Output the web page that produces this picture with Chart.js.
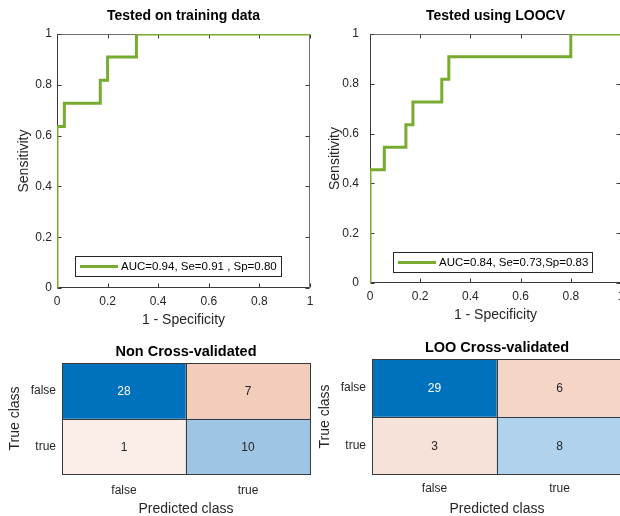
<!DOCTYPE html>
<html>
<head>
<meta charset="utf-8">
<script src="https://cdn.jsdelivr.net/npm/chart.js@4"></script>
<style>
  html, body { margin: 0; padding: 0; background: #fff; overflow: hidden; }
  #wrap { position: relative; width: 620px; height: 516px; overflow: hidden; }
  canvas { position: absolute; }
</style>
</head>
<body>
<div id="wrap">
  <canvas id="rocTrain" width="320" height="330" style="left:0;top:0;width:320px;height:330px"></canvas>
  <canvas id="rocLoo" width="321" height="325" style="left:310px;top:0;width:321px;height:325px"></canvas>
  <canvas id="cmTrainCv" width="320" height="188" style="left:0;top:330px;width:320px;height:188px"></canvas>
  <canvas id="cmLooCv" width="320" height="188" style="left:310px;top:330px;width:320px;height:188px"></canvas>
</div>
<script>
// ROC curves (1 - specificity, sensitivity)
const trainFpr = [0, 0, 0.029, 0.171, 0.2, 0.314, 1];
const trainTpr = [0, 0.636, 0.727, 0.818, 0.909, 1, 1];
const looFpr = [0, 0, 0.057, 0.143, 0.171, 0.286, 0.314, 0.8, 1];
const looTpr = [0, 0.455, 0.545, 0.636, 0.727, 0.818, 0.909, 1, 1];
const trainLabel = 'AUC=0.94, Se=0.91 , Sp=0.80';
const looLabel = 'AUC=0.84, Se=0.73,Sp=0.83';

// confusion matrices: rows = true class, columns = predicted class
const predClasses = ['false', 'true'];
const trueClasses = ['false', 'true'];
const cmTrain = [[28, 7], [1, 10]];
const cmLoo = [[29, 6], [3, 8]];

// cell colours
const cmTrainColors = [['#0072BD', '#F2CDBB'], ['#FBEEE9', '#9EC6E4']];
const cmLooColors = [['#0072BD', '#F5D5C6'], ['#F7E2DA', '#B0D2EC']];

const FONT = '"Liberation Sans", Arial, Helvetica, sans-serif';
Chart.defaults.font.family = FONT;
Chart.defaults.color = '#262626';

// box round the plot area with inward ticks
const frameTicks = {
    id: 'frameTicks',
    beforeDatasetsDraw(chart) {
        const {ctx, chartArea: a, scales: {x, y}} = chart;
        const L = Math.round(a.left) + 0.5, R = Math.round(a.right) - 0.5;
        const T = Math.round(a.top) + 0.5, B = Math.round(a.bottom) - 0.5;
        ctx.save();
        ctx.lineWidth = 1;
        // top and right edges look lighter in the original
        ctx.strokeStyle = '#6e6e6e';
        ctx.beginPath();
        ctx.moveTo(L, T); ctx.lineTo(R, T); ctx.lineTo(R, B);
        ctx.stroke();
        ctx.strokeStyle = '#3a3a3a';
        ctx.beginPath();
        ctx.moveTo(L, T); ctx.lineTo(L, B); ctx.lineTo(R, B);
        x.ticks.forEach(t => {
            const px = Math.round(x.getPixelForValue(t.value)) + 0.5;
            ctx.moveTo(px, B); ctx.lineTo(px, B - 4);
            ctx.moveTo(px, T); ctx.lineTo(px, T + 4);
        });
        y.ticks.forEach(t => {
            const py = Math.round(y.getPixelForValue(t.value)) + 0.5;
            ctx.moveTo(L, py); ctx.lineTo(L + 4, py);
            ctx.moveTo(R, py); ctx.lineTo(R - 4, py);
        });
        ctx.stroke();
        ctx.restore();
    }
};

// legend box inside the plot area
const insideLegend = {
    id: 'insideLegend',
    afterDraw(chart, args, opts) {
        const {ctx, chartArea: a} = chart;
        const ds = chart.data.datasets[0];
        ctx.save();
        ctx.font = '11.5px ' + FONT;
        const tw = ctx.measureText(ds.label).width;
        const h = 20, lineLen = 38;
        const x0 = Math.round(a.left + opts.left);
        const y0 = Math.round(a.bottom - opts.bottom - h);
        const w = Math.round(5 + lineLen + 3 + tw + 4);
        ctx.fillStyle = '#fff';
        ctx.fillRect(x0, y0, w, h);
        ctx.strokeStyle = '#262626';
        ctx.lineWidth = 1;
        ctx.strokeRect(x0 + 0.5, y0 + 0.5, w, h);
        ctx.strokeStyle = ds.borderColor;
        ctx.lineWidth = ds.borderWidth;
        ctx.beginPath();
        ctx.moveTo(x0 + 5, y0 + h / 2 + 0.5);
        ctx.lineTo(x0 + 5 + lineLen, y0 + h / 2 + 0.5);
        ctx.stroke();
        ctx.fillStyle = '#000';
        ctx.textBaseline = 'middle';
        ctx.fillText(ds.label, x0 + 5 + lineLen + 3, y0 + h / 2 + 1);
        ctx.restore();
    }
};

const tickFmt = v => String(+Number(v).toFixed(2));

function rocChart(id, fpr, tpr, label, title, lay) {
    return new Chart(document.getElementById(id), {
        type: 'scatter',
        data: {
            datasets: [{
                label: label,
                data: fpr.map((v, i) => ({x: v, y: tpr[i]})),
                showLine: true,
                stepped: true,
                borderColor: '#77AC30',
                backgroundColor: '#77AC30',
                borderWidth: 3,
                pointRadius: 0
            }]
        },
        options: {
            responsive: false,
            animation: false,
            layout: {padding: {left: 0, right: 10, top: 0, bottom: 0}},
            plugins: {
                legend: {display: false},
                tooltip: {enabled: false},
                title: {
                    display: true, text: title, color: '#000', fullSize: false,
                    font: {size: 14, weight: 'bold'},
                    padding: {top: 7.6, bottom: 9.6}
                },
                insideLegend: {left: lay.legLeft, bottom: lay.legBottom}
            },
            scales: {
                x: {
                    type: 'linear', min: 0, max: 1,
                    grid: {display: false, drawTicks: false}, border: {display: false},
                    ticks: {stepSize: 0.2, font: {size: 12}, padding: lay.xTickPad, maxRotation: 0, callback: tickFmt},
                    title: {display: true, text: '1 - Specificity', font: {size: 14}, padding: {top: 0, bottom: 1.6}},
                    afterFit: s => { s.height = lay.xHeight; }
                },
                y: {
                    type: 'linear', min: 0, max: 1,
                    grid: {display: false, drawTicks: false}, border: {display: false},
                    ticks: {stepSize: 0.2, font: {size: 12}, padding: lay.yTickPad, callback: tickFmt},
                    title: {display: true, text: 'Sensitivity', font: {size: 14}, padding: {top: lay.yTitlePad, bottom: 0}},
                    afterFit: s => { s.width = lay.yWidth; }
                }
            }
        },
        plugins: [frameTicks, insideLegend]
    });
}

// numbers and cell outlines of the confusion matrix
const cellText = {
    id: 'cellText',
    afterDatasetsDraw(chart) {
        const {ctx} = chart;
        ctx.save();
        ctx.strokeStyle = '#3a3a3a';
        ctx.lineWidth = 1;
        chart.data.datasets.forEach((ds, i) => {
            chart.getDatasetMeta(i).data.forEach(bar => {
                const r = bar.getProps(['x', 'y', 'base', 'width'], true);
                const l = Math.round(r.x - r.width / 2), rr = Math.round(r.x + r.width / 2);
                const t = Math.round(Math.min(r.y, r.base)), b = Math.round(Math.max(r.y, r.base));
                ctx.strokeRect(l + 0.5, t + 0.5, rr - l, b - t);
            });
        });
        ctx.font = '12px ' + FONT;
        ctx.textAlign = 'center';
        ctx.textBaseline = 'middle';
        chart.data.datasets.forEach((ds, i) => {
            const maxCount = Math.max(...ds.allCounts.flat());
            chart.getDatasetMeta(i).data.forEach((bar, j) => {
                const r = bar.getProps(['x', 'y', 'base'], true);
                ctx.fillStyle = ds.counts[j] === maxCount ? '#fff' : '#262626';
                ctx.fillText(String(ds.counts[j]), r.x, (r.y + r.base) / 2 + 1);
            });
        });
        ctx.restore();
    }
};

function cmChart(id, cm, colors, title, lay) {
    return new Chart(document.getElementById(id), {
        type: 'bar',
        data: {
            labels: predClasses,
            datasets: trueClasses.map((c, i) => ({
                label: c,
                data: predClasses.map(() => [i, i + 1]),
                counts: cm[i],
                allCounts: cm,
                backgroundColor: colors[i],
                borderWidth: 0,
                grouped: false,
                barPercentage: 1,
                categoryPercentage: 1
            }))
        },
        options: {
            responsive: false,
            animation: false,
            layout: {padding: {left: 0, right: lay.padRight, top: 0, bottom: 0}},
            plugins: {
                legend: {display: false},
                tooltip: {enabled: false},
                title: {
                    display: true, text: title, color: '#000', fullSize: false,
                    font: {size: 14.5, weight: 'bold'},
                    padding: {top: lay.titleTop, bottom: lay.titleBottom}
                }
            },
            scales: {
                x: {
                    grid: {display: false, drawTicks: false}, border: {display: false},
                    ticks: {font: {size: 12}, padding: lay.xTickPad},
                    title: {display: true, text: 'Predicted class', font: {size: 14}, padding: {top: 0, bottom: 0}},
                    afterFit: s => { s.height = lay.xHeight; }
                },
                y: {
                    type: 'linear', min: 0, max: 2, reverse: true,
                    grid: {display: false, drawTicks: false}, border: {display: false},
                    afterBuildTicks: s => { s.ticks = trueClasses.map((c, i) => ({value: i + 0.5})); },
                    ticks: {font: {size: 12}, padding: 6, callback: v => trueClasses[Math.floor(v)]},
                    title: {display: true, text: 'True class', font: {size: 14}, padding: {top: 6.6, bottom: 0}},
                    afterFit: s => { s.width = 62; }
                }
            }
        },
        plugins: [cellText]
    });
}

rocChart('rocTrain', trainFpr, trainTpr, trainLabel, 'Tested on training data',
    {xHeight: 42, xTickPad: 6, yWidth: 57, yTickPad: 5, yTitlePad: 15.6, legLeft: 18, legBottom: 12});
rocChart('rocLoo', looFpr, looTpr, looLabel, 'Tested using LOOCV',
    {xHeight: 42, xTickPad: 6, yWidth: 60, yTickPad: 11, yTitlePad: 17, legLeft: 23, legBottom: 11});
cmChart('cmTrainCv', cmTrain, cmTrainColors, 'Non Cross-validated',
    {padRight: 10, titleTop: 13.3, titleBottom: 2.3, xHeight: 44, xTickPad: 9});
cmChart('cmLooCv', cmLoo, cmLooColors, 'LOO Cross-validated',
    {padRight: 8, titleTop: 9.3, titleBottom: 2.3, xHeight: 44, xTickPad: 7});
</script>
</body>
</html>
